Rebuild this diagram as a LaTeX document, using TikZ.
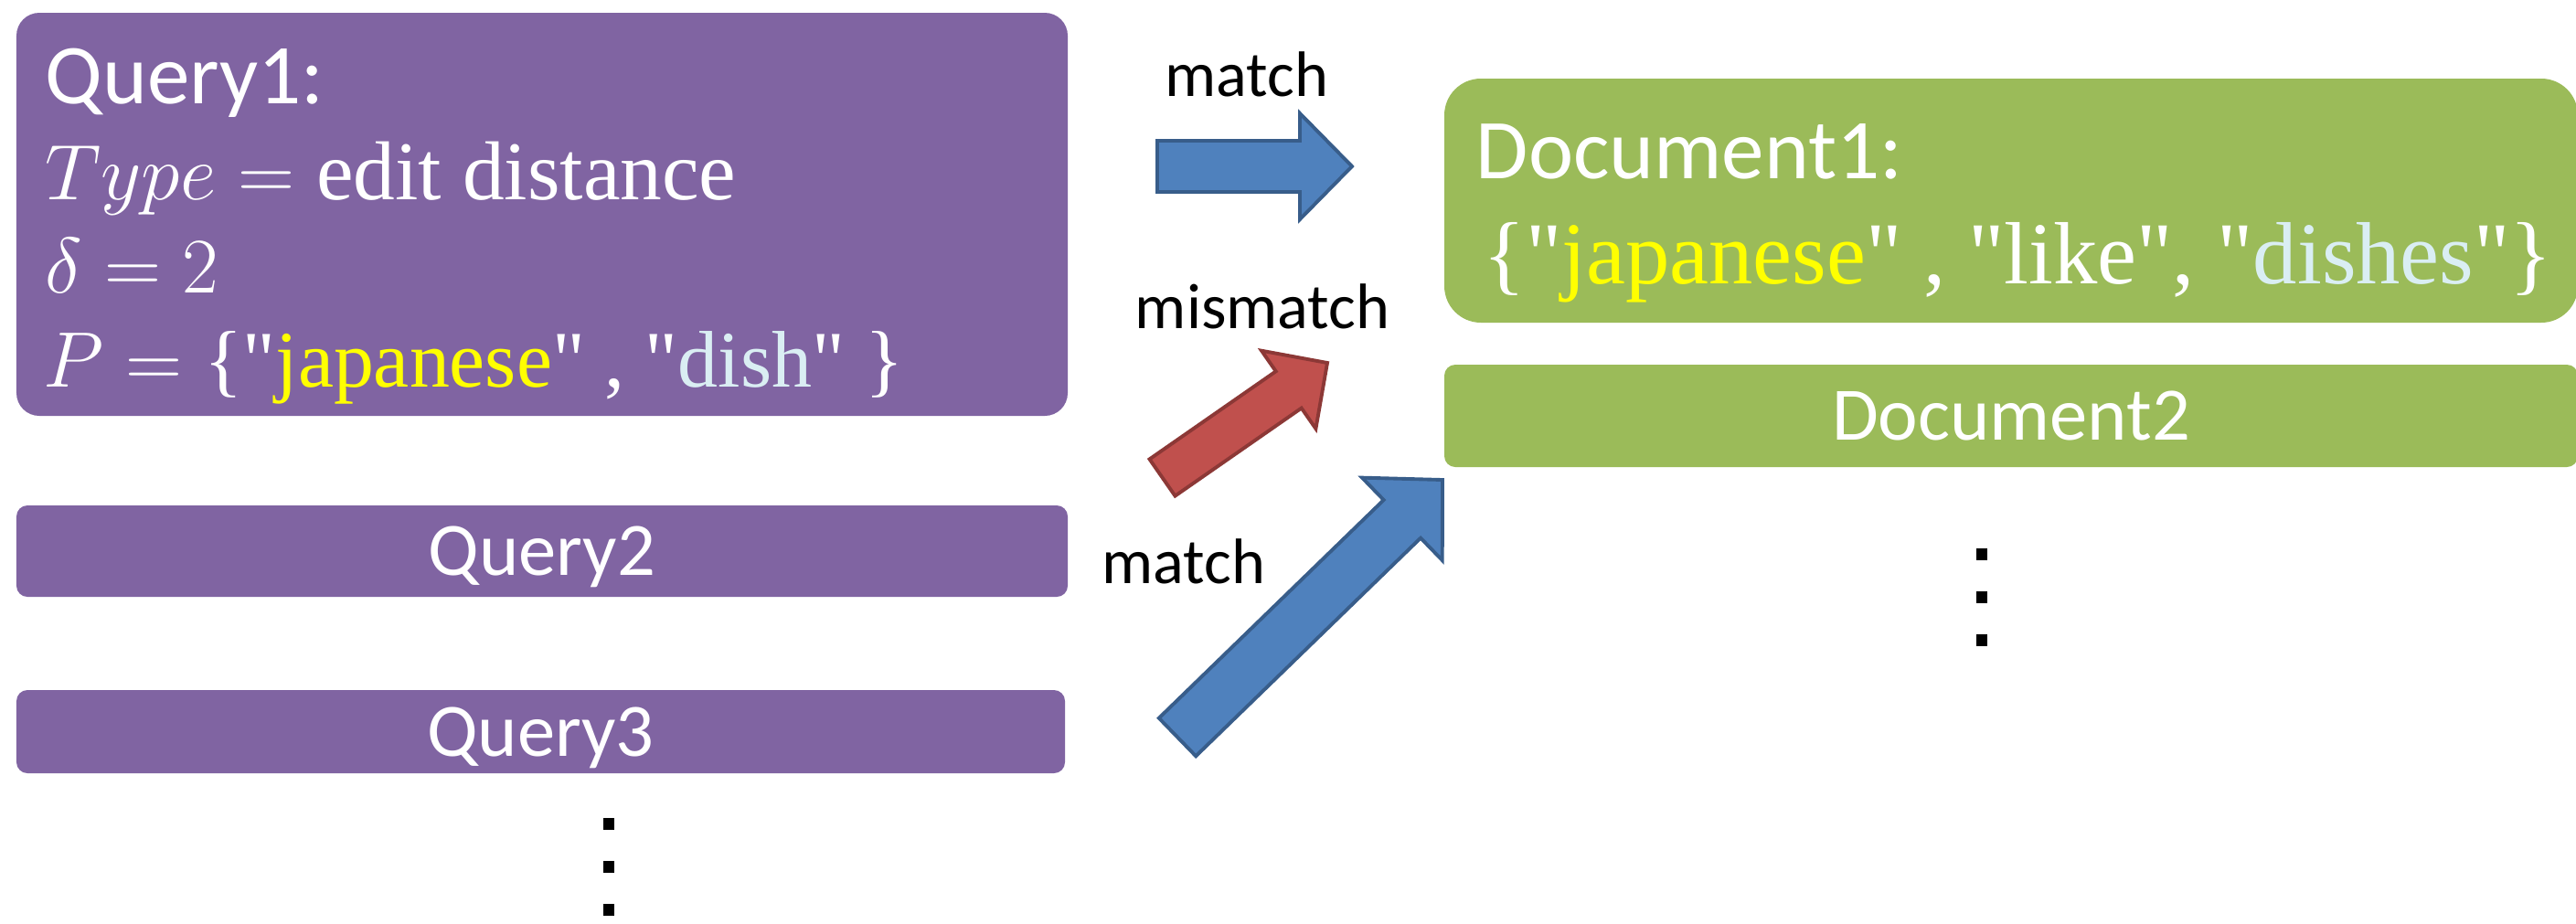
\RequirePackage{fix-cm}
\documentclass[tikz,border=0pt]{standalone}
\usepackage[no-math]{fontspec}
\setmainfont{Carlito}
\newfontfamily\docserif[Ligatures=TeXOff]{Liberation Serif}
\usetikzlibrary{calc}
\definecolor{querypurple}{HTML}{8064A2}
\definecolor{docgreen}{HTML}{9BBB59}
\definecolor{matchblue}{HTML}{4F81BD}
\definecolor{matchblueline}{HTML}{385D8A}
\definecolor{missred}{HTML}{C0504D}
\definecolor{missredline}{HTML}{8C3836}
\definecolor{termyellow}{HTML}{FFFF00}
\definecolor{termaqua}{HTML}{DAEEF3}

\begin{document}
\begin{tikzpicture}[
    qbox/.style={rectangle,fill=querypurple,text=white,inner sep=0pt,text depth=0pt},
    dbox/.style={rectangle,fill=docgreen,text=white,inner sep=0pt,text depth=0pt},
    bigtext/.style={anchor=base west,inner sep=0pt,text=white,font=\fontsize{26.5}{31}\selectfont},
    mathline/.style={anchor=base west,inner sep=0pt,text=white,font=\fontsize{24.5}{31}\selectfont},
    barfont/.style={font=\fontsize{23.5}{28}\selectfont},
    tag/.style={anchor=base,inner sep=0pt,font=\fontsize{20}{24}\selectfont}]
  \useasboundingbox (0,0) rectangle (28.18,-10.10);
  % queries
  \node[qbox,minimum width=11.50cm,minimum height=4.41cm,rounded corners=0.25cm] (q1) at (5.93,-2.345) {};
  \node[bigtext] (q1title) at (0.49,-1.13) {Query1:};
  \node[mathline] (q1type) at (0.49,-2.18)
    {$Type\;{=}\;\mbox{\fontsize{26}{31}\selectfont\docserif edit distance}$};
  \node[mathline] (q1delta) at (0.49,-3.20) {$\delta\;{=}\;2$};
  \node[mathline] (q1set) at (0.47,-4.23)
    {$P\;{=}\;\mbox{\fontsize{25}{31}\selectfont\docserif\{"\textcolor{termyellow}{japanese}" , "\textcolor{termaqua}{dish}" \}}$};
  \node[qbox,barfont,minimum width=11.50cm,minimum height=1.00cm,rounded corners=0.12cm] (q2) at (5.93,-6.03) {Query2};
  \node[qbox,barfont,minimum width=11.47cm,minimum height=0.91cm,rounded corners=0.12cm] (q3) at (5.915,-8.005) {Query3};
  \foreach \y in {-9.01,-9.48,-9.95}
    \fill ($(6.66,\y)+(-0.06,-0.065)$) rectangle ++(0.12,0.13);
  % documents
  \node[dbox,minimum width=12.40cm,minimum height=2.67cm,rounded corners=0.40cm] (d1) at (22.00,-2.195) {};
  \node[bigtext] (d1title) at (16.14,-1.95) {Document1:};
  \node[bigtext,font=\fontsize{27.5}{31}\selectfont\docserif] (d1words) at (16.22,-3.10)
    {\{"\textcolor{termyellow}{japanese}" , "like", "\textcolor{termaqua}{dishes}"\}};
  \node[dbox,barfont,minimum width=12.40cm,minimum height=1.12cm,rounded corners=0.12cm] (d2) at (22.00,-4.55) {Document2};
  \foreach \y in {-6.06,-6.53,-7.00}
    \fill ($(21.68,\y)+(-0.06,-0.065)$) rectangle ++(0.12,0.13);
  % arrows
  \coordinate (m1tail) at (12.66,-1.82);
  \coordinate (m1tip) at (14.79,-1.82);
  \coordinate (mmtail) at (12.715,-5.225);
  \coordinate (mmtip) at (14.52,-3.97);
  \coordinate (m2tail) at (12.88,-8.065);
  \coordinate (m2tip) at (15.78,-5.25);
  \foreach \from/\to/\bw/\hw/\hl/\fc/\dc in {m1tail/m1tip/0.28/0.58/0.57/matchblue/matchblueline,
      mmtail/mmtip/0.245/0.52/0.515/missred/missredline,
      m2tail/m2tip/0.29/0.63/0.615/matchblue/matchblueline}{
    \coordinate (hb) at ($(\to)!\hl cm!(\from)$);
    \draw[fill=\fc,draw=\dc,line width=1.1pt,line join=miter]
      ($(\from)!\bw cm!90:(\to)$) -- ($(hb)!\bw cm!90:(\to)$) -- ($(hb)!\hw cm!90:(\to)$)
      -- (\to) -- ($(hb)!\hw cm!-90:(\to)$) -- ($(hb)!\bw cm!-90:(\to)$)
      -- ($(\from)!\bw cm!-90:(\to)$) -- cycle;
  }
  \node[tag] (matchtop) at (13.64,-1.05) {match};
  \node[tag] (mismatch) at (13.81,-3.59) {mismatch};
  \node[tag] (matchlow) at (12.95,-6.38) {match};
\end{tikzpicture}
\end{document}
